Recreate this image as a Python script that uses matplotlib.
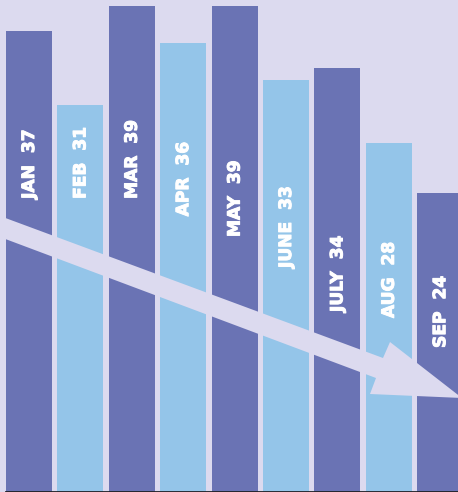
import matplotlib
matplotlib.use("Agg")
import matplotlib.pyplot as plt
import matplotlib.patheffects as pe
from matplotlib.patches import Polygon
import numpy as np

# data
months = ["JAN", "FEB", "MAR", "APR", "MAY", "JUNE", "JULY", "AUG", "SEP"]
values = [37, 31, 39, 36, 39, 33, 34, 28, 24]
# where the bottom of each rotated label sits (data units)
label_base = [23.5, 23.5, 23.5, 22.1, 20.45, 17.96, 14.43, 13.95, 11.55]

BG = "#dcdaef"
DARK = "#6a73b4"
LIGHT = "#94c5e9"

W, H = 458, 492
fig = plt.figure(figsize=(W / 100, H / 100), dpi=100, facecolor=BG)
ax = fig.add_axes([0, 0, 1, 1])
ax.set_facecolor(BG)

x = np.arange(len(months))
colors = [DARK if i % 2 == 0 else LIGHT for i in range(len(months))]
ax.bar(x, values, width=0.895, color=colors, zorder=2)

ax.set_xlim(-0.565, 8.345)
ax.set_ylim(0, 39.45)
ax.axis("off")

# baseline
ax.plot([6 / W, 1], [0.001, 0.001], transform=ax.transAxes, color="#1e1e24",
        lw=2, clip_on=False, zorder=5)

# trend arrow, drawn in background colour over the bars (pixel coords, y down)
arrow_px = [(0, 216), (383, 358), (390, 342), (462, 398),
            (370, 394), (376, 378), (0, 237)]
arrow = Polygon([(px / W, 1 - py / H) for px, py in arrow_px], closed=True,
                transform=ax.transAxes, facecolor=BG, edgecolor="none",
                zorder=3)
ax.add_patch(arrow)

for xi, m, v, yb in zip(x, months, values, label_base):
    ax.text(xi, yb, f"{m}  {v}", rotation=90, ha="center", va="bottom",
            color="white", fontsize=12.3, fontweight="bold",
            family="DejaVu Sans", zorder=4,
            path_effects=[pe.withStroke(linewidth=0.7, foreground="white")])

fig.savefig("out.png", dpi=100, facecolor=BG)
